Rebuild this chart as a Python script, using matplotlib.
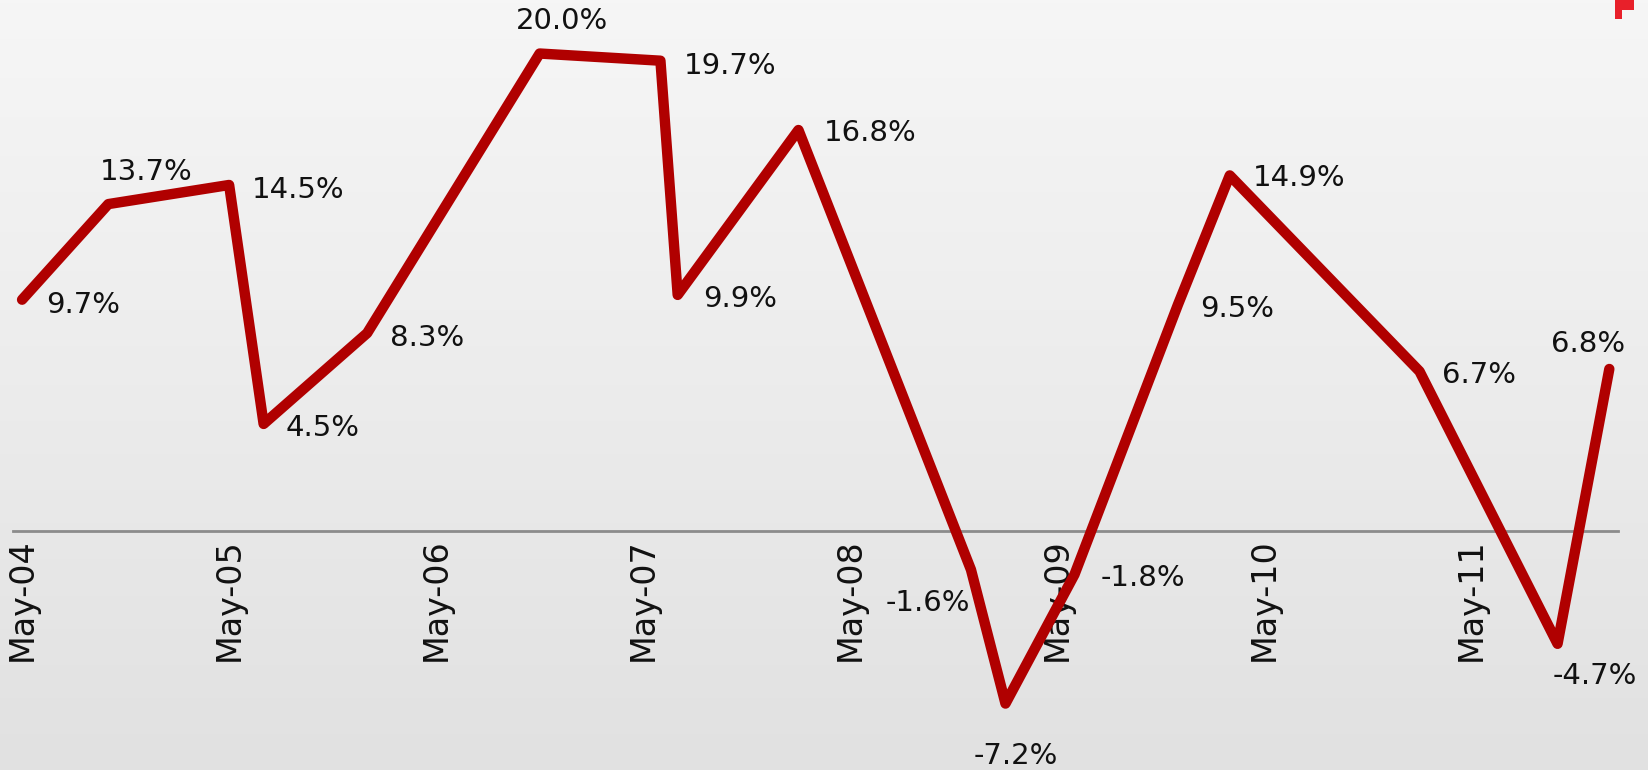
import numpy as np
import pandas as pd
import matplotlib.pyplot as plt
from matplotlib.colors import LinearSegmentedColormap
from matplotlib.patches import Rectangle

# year-on-year growth, %
dates = ['2004-05', '2004-10', '2005-05', '2005-07', '2006-01', '2006-11',
         '2007-06', '2007-07', '2008-02', '2008-12', '2009-02', '2009-06',
         '2009-12', '2010-03', '2011-02', '2011-10', '2012-01']
growth = [9.7, 13.7, 14.5, 4.5, 8.3, 20.0, 19.7, 9.9, 16.8, -1.6, -7.2, -1.8,
          9.5, 14.9, 6.7, -4.7, 6.8]
tick_labels = ['May-04', 'May-05', 'May-06', 'May-07', 'May-08', 'May-09',
               'May-10', 'May-11']

d = pd.to_datetime(dates)
start = d[0]
months = np.array([(x.year - start.year) * 12 + x.month - start.month for x in d])
tick_pos = np.arange(len(tick_labels)) * 12

# label offsets in pixels (dx, dy, ha)
offsets = [(24, -5, 'left'), (-9, 32, 'left'), (23, -5, 'left'), (22, -4, 'left'),
           (23, -5, 'left'), (-24, 33, 'left'), (23, -5, 'left'), (25, -4, 'left'),
           (25, -3, 'left'), (-1, -33, 'right'), (-32, -52, 'left'), (26, -3, 'left'),
           (22, -5, 'left'), (23, -3, 'left'), (22, -4, 'left'), (-5, -32, 'left'),
           (-58, 25, 'left')]

fig = plt.figure(figsize=(16.49, 7.70), dpi=100)

# soft grey background, lighter towards the top
bg = fig.add_axes([0, 0, 1, 1], zorder=0)
cmap = LinearSegmentedColormap.from_list('bg', ['#f6f6f6', '#ececec', '#e1e1e1'])
bg.imshow(np.linspace(0, 1, 256).reshape(-1, 1), cmap=cmap, aspect='auto',
          extent=[0, 1, 0, 1])
bg.axis('off')

ax = fig.add_axes([0, 0, 1, 1], zorder=1)
ax.patch.set_alpha(0)

ax.plot(months, growth, color='#b00000', lw=7.5, solid_joinstyle='round',
        solid_capstyle='round', zorder=3)

for m, g, (dx, dy, ha) in zip(months, growth, offsets):
    ax.annotate(f'{g:.1f}%', (m, g), xytext=(dx, dy), textcoords='offset pixels',
                ha=ha, va='center', fontsize=21, color='#111111', zorder=4)

ax.set_xlim(-1.28, 94.3)
ax.set_ylim(-9.98, 22.24)

for s in ['top', 'right', 'left']:
    ax.spines[s].set_visible(False)
ax.spines['bottom'].set_position(('data', 0))
ax.spines['bottom'].set_color('#8c8c8c')
ax.spines['bottom'].set_linewidth(2)
ax.spines['bottom'].set_bounds(months[0] - 0.5, months[-1] + 0.5)
ax.spines['bottom'].set_zorder(2)

ax.set_yticks([])
ax.set_xticks(tick_pos)
ax.set_xticklabels(tick_labels, rotation=90, fontsize=24, color='#111111')
ax.tick_params(axis='x', length=0, pad=5)

# corner of the logo, cut by the top edge
fig.patches.append(Rectangle((0.9795, 0.987), 0.0115, 0.013, transform=fig.transFigure,
                             facecolor='#e8202a', edgecolor='none', zorder=5))
fig.patches.append(Rectangle((0.9795, 0.975), 0.004, 0.025, transform=fig.transFigure,
                             facecolor='#e8202a', edgecolor='none', zorder=5))

fig.savefig('out.png', dpi=100)
